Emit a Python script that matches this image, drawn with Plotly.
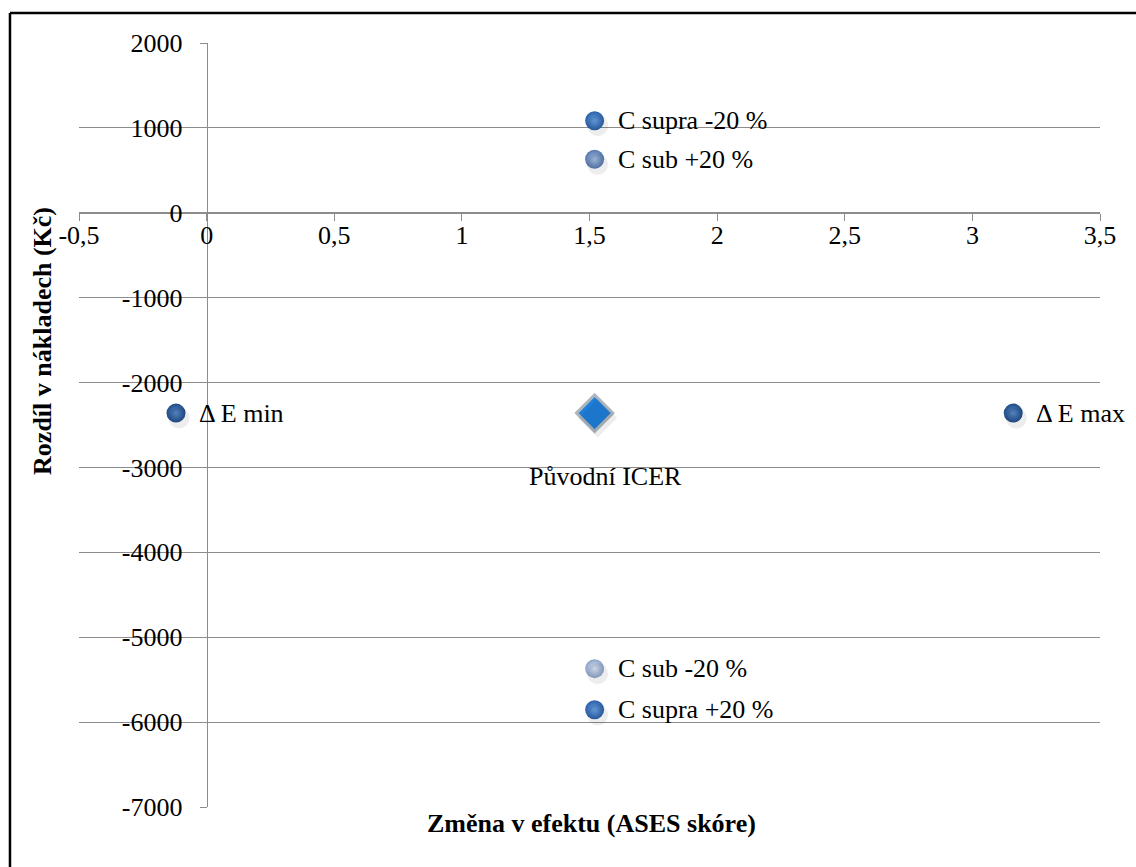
import plotly.graph_objects as go

# Sensitivity analysis points: change in effect vs. difference in costs
point_labels = ["C supra -20 %", "C sub +20 %", "Δ E min", "Δ E max", "C sub -20 %", "C supra +20 %"]
effect_change = [1.52, 1.52, -0.12, 3.16, 1.52, 1.52]
cost_diff = [1085, 630, -2360, -2360, -5370, -5855]

# Base-case ICER
base_label = "Původní ICER"
base_effect = [1.52]
base_cost = [-2360]

# Axis ticks
x_tick_vals = [-0.5, 0, 0.5, 1, 1.5, 2, 2.5, 3, 3.5]
x_tick_text = ["-0,5", "0", "0,5", "1", "1,5", "2", "2,5", "3", "3,5"]
y_tick_vals = [2000, 1000, 0, -1000, -2000, -3000, -4000, -5000, -6000, -7000]
y_tick_text = ["2000", "1000", "0", "-1000", "-2000", "-3000", "-4000", "-5000", "-6000", "-7000"]

# Sphere shading per point: edge colour and highlight (centre) colour
edge_colors = ["#2a5ea6", "#5577ad", "#1f4c86", "#1f4c86", "#8aa2c8", "#2a5ea6"]
center_colors = ["#6aa3e6", "#a9c1e6", "#5a8ccc", "#5a8ccc", "#dde6f4", "#6aa3e6"]

FONT = "Liberation Serif"
FS = 26
GRID = "#8c8c8c"
X_RANGE = [-0.5, 3.5]
Y_RANGE = [-7000, 2000]

# Soft drop shadow: same points on an overlaid, slightly shifted pair of axes
SHADOW_DX = 3 / 255.25      # ~3 px to the right
SHADOW_DY = 5 * 9000 / 764  # ~5 px downward

fig = go.Figure()

fig.add_trace(go.Scatter(
    x=effect_change + base_effect, y=cost_diff + base_cost, mode="markers",
    xaxis="x2", yaxis="y2",
    marker=dict(size=[21] * len(effect_change) + [30],
                symbol=["circle"] * len(effect_change) + ["diamond"],
                color="rgba(0,0,0,0.10)", line=dict(width=0)),
    hoverinfo="skip", showlegend=False,
))

fig.add_trace(go.Scatter(
    x=effect_change, y=cost_diff, mode="markers",
    marker=dict(size=19, color=edge_colors,
                gradient=dict(type="radial", color=center_colors),
                line=dict(width=0)),
    hovertext=point_labels, hoverinfo="text+x+y", showlegend=False,
))

fig.add_trace(go.Scatter(
    x=base_effect, y=base_cost, mode="markers",
    marker=dict(symbol="diamond", size=28, color="#1f80dc",
                line=dict(color="#aeb6bf", width=3)),
    hovertext=[base_label], hoverinfo="text+x+y", showlegend=False,
))

annotations = []
for lab, xv, yv in zip(point_labels, effect_change, cost_diff):
    annotations.append(dict(
        x=xv, y=yv, xref="x", yref="y", text=lab, showarrow=False,
        xanchor="left", yanchor="middle", xshift=21,
        font=dict(family=FONT, size=FS, color="black"),
    ))
annotations.append(dict(
    x=base_effect[0], y=base_cost[0], xref="x", yref="y", text=base_label,
    showarrow=False, xanchor="center", yanchor="middle", xshift=11, yshift=-63,
    font=dict(family=FONT, size=FS, color="black"),
))
# Axis titles
annotations.append(dict(
    x=0.502, y=-0.021, xref="paper", yref="paper",
    text="<b>Změna v efektu (ASES skóre)</b>", showarrow=False,
    xanchor="center", yanchor="middle",
    font=dict(family=FONT, size=FS, color="black"),
))
annotations.append(dict(
    x=-0.0353, y=0.61, xref="paper", yref="paper",
    text="<b>Rozdíl v nákladech (Kč)</b>", showarrow=False, textangle=-90,
    xanchor="center", yanchor="middle",
    font=dict(family=FONT, size=FS, color="black"),
))

fig.update_layout(
    width=1136, height=867,
    margin=dict(l=79, r=36, t=43, b=60),
    paper_bgcolor="white", plot_bgcolor="white",
    font=dict(family=FONT, size=FS, color="black"),
    annotations=annotations,
    shapes=[
        dict(type="line", xref="paper", yref="paper", x0=-0.0676, x1=-0.0676,
             y0=-0.1, y1=1.0393, line=dict(color="black", width=2.5)),
        dict(type="line", xref="paper", yref="paper", x0=-0.0676, x1=1.1,
             y0=1.0393, y1=1.0393, line=dict(color="black", width=2.5)),
    ],
    xaxis=dict(
        range=X_RANGE, tickvals=x_tick_vals, ticktext=x_tick_text,
        showgrid=False, zeroline=False, showline=True, linecolor=GRID, linewidth=1,
        ticks="outside", ticklen=7, tickcolor=GRID, tickwidth=1,
        anchor="free", position=7 / 9, ticklabelstandoff=-8,
        tickfont=dict(family=FONT, size=FS, color="black"),
    ),
    yaxis=dict(
        range=Y_RANGE, tickvals=y_tick_vals, ticktext=y_tick_text,
        showgrid=True, gridcolor=GRID, gridwidth=1, zeroline=False,
        showline=True, linecolor=GRID, linewidth=1,
        ticks="outside", ticklen=7, tickcolor=GRID, tickwidth=1,
        anchor="free", position=0.125, ticklabelstandoff=12,
        tickfont=dict(family=FONT, size=FS, color="black"),
    ),
    xaxis2=dict(
        range=[X_RANGE[0] - SHADOW_DX, X_RANGE[1] - SHADOW_DX], overlaying="x",
        visible=False, anchor="y2",
    ),
    yaxis2=dict(
        range=[Y_RANGE[0] + SHADOW_DY, Y_RANGE[1] + SHADOW_DY], overlaying="y",
        visible=False, anchor="x2",
    ),
)

fig.write_html("out.html")
